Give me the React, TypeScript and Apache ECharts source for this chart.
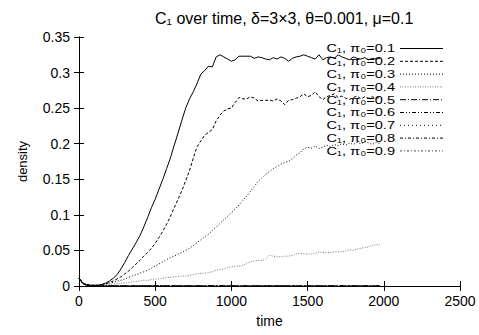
import React, { useEffect, useRef } from 'react';
import * as echarts from 'echarts';

// time samples (x values) for the four visible curves
const TIME = [
  0, 25, 50, 75, 100, 125, 150, 175, 200, 225,
  250, 275, 300, 325, 350, 375, 400, 425, 450, 475,
  500, 525, 550, 575, 600, 625, 650, 675, 700, 725,
  750, 775, 800, 825, 850, 875, 900, 925, 950, 975,
  1000, 1025, 1050, 1075, 1100, 1125, 1150, 1175, 1200, 1225,
  1250, 1275, 1300, 1325, 1350, 1375, 1400, 1425, 1450, 1475,
  1500, 1525, 1550, 1575, 1600, 1625, 1650, 1675, 1700, 1725,
  1750, 1775, 1800, 1825, 1850, 1875, 1900, 1925, 1950, 1975,
];

const C1_PI01 = [
  0.011, 0.004, 0.002, 0.001, 0.001, 0.001, 0.002, 0.004, 0.007, 0.011,
  0.016, 0.024, 0.033, 0.043, 0.052, 0.061, 0.071, 0.083, 0.096, 0.110,
  0.122, 0.136, 0.150, 0.165, 0.180, 0.198, 0.215, 0.233, 0.250, 0.263,
  0.273, 0.285, 0.298, 0.303, 0.309, 0.308, 0.322, 0.325, 0.322, 0.319,
  0.316, 0.318, 0.323, 0.323, 0.323, 0.323, 0.320, 0.322, 0.321, 0.319,
  0.318, 0.321, 0.319, 0.322, 0.320, 0.316, 0.320, 0.322, 0.323, 0.325,
  0.323, 0.321, 0.319, 0.325, 0.318, 0.321, 0.322, 0.320, 0.325, 0.322,
  0.320, 0.318, 0.322, 0.320, 0.319, 0.321, 0.318, 0.320, 0.319, 0.320,
];

const C1_PI02 = [
  0.011, 0.004, 0.002, 0.001, 0.001, 0.001, 0.002, 0.003, 0.005, 0.007,
  0.010, 0.013, 0.017, 0.021, 0.026, 0.031, 0.036, 0.042, 0.047, 0.053,
  0.060, 0.068, 0.077, 0.087, 0.098, 0.110, 0.122, 0.134, 0.148, 0.162,
  0.180, 0.196, 0.204, 0.212, 0.216, 0.220, 0.232, 0.240, 0.246, 0.249,
  0.250, 0.258, 0.265, 0.263, 0.263, 0.266, 0.264, 0.260, 0.261, 0.261,
  0.261, 0.260, 0.263, 0.260, 0.255, 0.261, 0.262, 0.264, 0.266, 0.270,
  0.266, 0.268, 0.273, 0.266, 0.262, 0.266, 0.268, 0.270, 0.265, 0.267,
  0.264, 0.262, 0.265, 0.267, 0.263, 0.266, 0.264, 0.266, 0.264, 0.265,
];

const C1_PI03 = [
  0.011, 0.004, 0.002, 0.001, 0.001, 0.001, 0.002, 0.003, 0.004, 0.005,
  0.007, 0.008, 0.010, 0.012, 0.014, 0.016, 0.018, 0.020, 0.022, 0.025,
  0.028, 0.031, 0.034, 0.037, 0.040, 0.042, 0.045, 0.047, 0.050, 0.053,
  0.057, 0.061, 0.065, 0.069, 0.073, 0.078, 0.083, 0.088, 0.093, 0.098,
  0.103, 0.108, 0.114, 0.120, 0.126, 0.133, 0.140, 0.147, 0.152, 0.157,
  0.161, 0.165, 0.168, 0.171, 0.174, 0.175, 0.179, 0.184, 0.187, 0.193,
  0.195, 0.194, 0.197, 0.193, 0.195, 0.198, 0.196, 0.199, 0.197, 0.200,
  0.198, 0.201, 0.199, 0.202, 0.200, 0.203, 0.201, 0.199, 0.202, 0.200,
];

const C1_PI04 = [
  0.011, 0.004, 0.002, 0.001, 0.001, 0.001, 0.001, 0.002, 0.002, 0.003,
  0.003, 0.004, 0.004, 0.005, 0.006, 0.006, 0.007, 0.008, 0.008, 0.009,
  0.010, 0.010, 0.011, 0.012, 0.012, 0.013, 0.013, 0.014, 0.014, 0.015,
  0.016, 0.017, 0.018, 0.018, 0.019, 0.020, 0.022, 0.023, 0.024, 0.026,
  0.027, 0.028, 0.028, 0.029, 0.032, 0.034, 0.035, 0.036, 0.036, 0.038,
  0.043, 0.042, 0.041, 0.041, 0.042, 0.042, 0.043, 0.045, 0.046, 0.045,
  0.045, 0.045, 0.046, 0.048, 0.047, 0.047, 0.047, 0.048, 0.048, 0.048,
  0.049, 0.051, 0.050, 0.052, 0.053, 0.054, 0.055, 0.057, 0.058, 0.058,
];

// the remaining curves stay near zero
const TIME_LOW = [0, 25, 50, 100, 200, 400, 800, 1200, 1600, 1975];
const C1_PI05 = [0.011, 0.004, 0.001, 0.0005, 0.0003, 0.0002, 0.0001, 0.0001, 0.0001, 0.0001];
const C1_PI06 = [0.011, 0.004, 0.001, 0.0004, 0.0002, 0.0001, 0.0001, 0.0001, 0.0001, 0.0001];
const C1_PI07 = [0.011, 0.003, 0.001, 0.0003, 0.0002, 0.0001, 0.0001, 0.0001, 0.0001, 0.0001];
const C1_PI08 = [0.011, 0.003, 0.001, 0.0003, 0.0001, 0.0001, 0.0001, 0.0001, 0.0001, 0.0001];
const C1_PI09 = [0.011, 0.003, 0.001, 0.0002, 0.0001, 0.0001, 0.0001, 0.0001, 0.0001, 0.0001];

const PI0_LABELS = ['0.1', '0.2', '0.3', '0.4', '0.5', '0.6', '0.7', '0.8', '0.9'];

const FONT = 'Liberation Sans, Arial, Helvetica, sans-serif';

export default function App() {
  const ref = useRef<HTMLDivElement>(null);

  useEffect(() => {
    document.body.style.margin = '0';
    const chart = echarts.init(ref.current!, null, { renderer: 'svg' });

    const curves: { x: number[]; y: number[]; dash: any; color: string }[] = [
      { x: TIME, y: C1_PI01, dash: 'solid', color: '#000' },
      { x: TIME, y: C1_PI02, dash: [3, 2], color: '#000' },
      { x: TIME, y: C1_PI03, dash: [1, 2], color: '#000' },
      { x: TIME, y: C1_PI04, dash: [1, 1.5], color: '#777' },
      { x: TIME_LOW, y: C1_PI05, dash: [6, 2, 1, 2], color: '#000' },
      { x: TIME_LOW, y: C1_PI06, dash: [4, 2, 1, 2, 1, 2], color: '#000' },
      { x: TIME_LOW, y: C1_PI07, dash: [1, 3], color: '#000' },
      { x: TIME_LOW, y: C1_PI08, dash: [3, 2, 1, 2], color: '#000' },
      { x: TIME_LOW, y: C1_PI09, dash: [2, 2, 1, 2], color: '#444' },
    ];

    const names = PI0_LABELS.map((p) => `C\u2081, \u03C0\u2080=${p}`);

    const series = curves.map((c, i) => ({
      name: names[i],
      type: 'line',
      xAxisIndex: 0,
      yAxisIndex: 0,
      symbol: 'none',
      showSymbol: false,
      data: c.x.map((t, k) => [t, c.y[k]]),
      lineStyle: { color: c.color, width: 1, type: c.dash },
      itemStyle: { color: c.color },
      z: 10 - i,
    }));

    // legend drawn as graphic text + dashed line samples (gnuplot style)
    const legendTop = 48.5;
    const legendPitch = 12.8;
    const legendElems: any[] = [];
    curves.forEach((c, i) => {
      const y = legendTop + i * legendPitch;
      legendElems.push({
        type: 'text',
        x: 395,
        y,
        z: 100,
        scaleX: 1.28,
        style: {
          text: names[i],
          align: 'right',
          verticalAlign: 'middle',
          fill: '#000',
          font: `11.4px ${FONT}`,
        },
      });
      legendElems.push({
        type: 'line',
        z: 100,
        shape: { x1: 400, y1: y, x2: 443, y2: y },
        style: {
          stroke: c.color,
          lineWidth: 1,
          lineDash: c.dash === 'solid' ? null : c.dash,
        },
      });
    });

    const axisCommon = {
      type: 'value' as const,
      axisLine: { show: true, lineStyle: { color: '#000', width: 1 } },
      axisTick: { show: true, inside: true, length: 5, lineStyle: { color: '#000' } },
      splitLine: { show: false },
    };

    chart.setOption({
      animation: false,
      backgroundColor: '#fff',
      textStyle: { fontFamily: FONT },
      title: {
        text: 'C\u2081 over time, \u03B4=3\u00D73, \u03B8=0.001, \u03BC=0.1',
        left: 150,
        top: 5,
        textStyle: { fontFamily: FONT, fontSize: 16, fontWeight: 'normal', color: '#000' },
      },
      graphic: legendElems,
      grid: { left: 79, right: 19, top: 37, bottom: 49, containLabel: false },
      xAxis: [
        {
          ...axisCommon,
          position: 'bottom',
          min: 0,
          max: 2500,
          interval: 500,
          axisLabel: {
            fontSize: 14,
            color: '#000',
            margin: 8,
            fontFamily: FONT,
            formatter: (v: number) => String(v),
          },
          name: 'time',
          nameLocation: 'middle',
          nameGap: 28,
          nameTextStyle: { fontSize: 14, color: '#000', fontFamily: FONT },
        },
        {
          ...axisCommon,
          position: 'top',
          min: 0,
          max: 2500,
          interval: 500,
          axisLabel: { show: false },
        },
      ],
      yAxis: [
        {
          ...axisCommon,
          position: 'left',
          min: 0,
          max: 0.35,
          interval: 0.05,
          axisLabel: {
            fontSize: 14,
            color: '#000',
            margin: 9,
            fontFamily: FONT,
            formatter: (v: number) => String(parseFloat(v.toFixed(2))),
          },
          name: 'density',
          nameLocation: 'middle',
          nameGap: 50,
          nameTextStyle: { fontSize: 13, color: '#000', fontFamily: FONT },
        },
        {
          ...axisCommon,
          position: 'right',
          min: 0,
          max: 0.35,
          interval: 0.05,
          axisLabel: { show: false },
        },
      ],
      series,
    });

    return () => chart.dispose();
  }, []);

  return <div ref={ref} style={{ width: 479, height: 335 }} />;
}
